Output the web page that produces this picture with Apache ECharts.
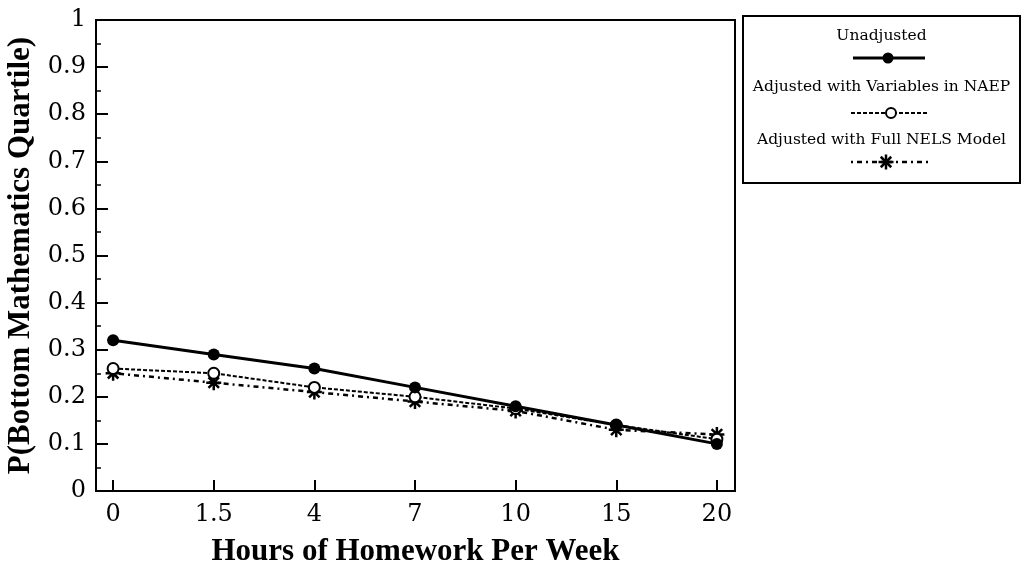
<!DOCTYPE html>
<html>
<head>
<meta charset="utf-8">
<script src="https://cdn.jsdelivr.net/npm/echarts@6/dist/echarts.min.js"></script>
<style>
  html, body { margin: 0; padding: 0; background: #fff; }
  #chart { width: 1021px; height: 563px; }
</style>
</head>
<body>
<div id="chart"></div>
<script>
// Hours of homework per week (category labels along the x axis)
const hourLabels = ['0', '1.5', '4', '7', '10', '15', '20'];

// Probability of being in the bottom mathematics quartile
const unadjusted = [0.32, 0.29, 0.26, 0.22, 0.18, 0.14, 0.10];
const adjustedNAEP = [0.26, 0.25, 0.22, 0.20, 0.175, 0.14, 0.11];
const adjustedNELS = [0.25, 0.23, 0.21, 0.19, 0.17, 0.13, 0.12];

const seriesNames = [
  'Unadjusted',
  'Adjusted with Variables in NAEP',
  'Adjusted with Full NELS Model'
];

const SERIF = '"DejaVu Serif", "Liberation Serif", serif';
const TITLE_FONT = '"Liberation Serif", "DejaVu Serif", serif';

// eight-armed asterisk marker
const ASTERISK = 'path://M0,-10 L0,10 M-10,0 L10,0 M-7,-7 L7,7 M-7,7 L7,-7';

const toPairs = arr => arr.map((v, i) => [i, v]);

const chart = echarts.init(document.getElementById('chart'), null, { renderer: 'canvas' });

// legend box drawn with text above each sample line
const lgX = 743, lgY = 16, lgW = 277, lgH = 167, lgC = lgX + lgW / 2;
const legendText = (txt, y) => ({
  type: 'text', x: lgC, y: y,
  style: { text: txt, fill: '#000', font: '15.5px ' + SERIF, align: 'center', verticalAlign: 'middle' }
});
const strokeLine = (x1, y1, x2, y2, w) => ({
  type: 'line', shape: { x1, y1, x2, y2 }, style: { stroke: '#000', lineWidth: w }
});
const asteriskGraphic = (cx, cy, r) => {
  const d = r * 0.7;
  return {
    type: 'group',
    children: [
      strokeLine(cx, cy - r, cx, cy + r, 2.5),
      strokeLine(cx - r, cy, cx + r, cy, 2.5),
      strokeLine(cx - d, cy - d, cx + d, cy + d, 2.5),
      strokeLine(cx - d, cy + d, cx + d, cy - d, 2.5)
    ]
  };
};

const option = {
  animation: false,
  backgroundColor: '#fff',
  grid: {
    left: 96, right: 286, top: 20, bottom: 72,
    show: true, borderColor: '#000', borderWidth: 2,
    containLabel: false, outerBoundsMode: 'none'
  },
  xAxis: {
    type: 'value',
    min: -0.17, max: 6.18,
    name: 'Hours of Homework Per Week',
    nameLocation: 'middle',
    nameGap: 45,
    nameTextStyle: { fontFamily: TITLE_FONT, fontWeight: 'bold', fontSize: 31, color: '#000' },
    axisLine: { show: true, onZero: false, lineStyle: { color: '#000', width: 2 } },
    axisTick: { show: true, inside: true, length: 11, lineStyle: { color: '#000', width: 2 },
      customValues: [0, 1, 2, 3, 4, 5, 6] },
    axisLabel: { show: true, margin: 12, fontFamily: SERIF, fontSize: 24, color: '#000',
      customValues: [0, 1, 2, 3, 4, 5, 6],
      formatter: v => hourLabels[Math.round(v)] },
    splitLine: { show: false }
  },
  yAxis: {
    type: 'value',
    min: 0, max: 1, interval: 0.1,
    name: 'P(Bottom Mathematics Quartile)',
    nameLocation: 'middle',
    nameGap: 53,
    nameTextStyle: { fontFamily: TITLE_FONT, fontWeight: 'bold', fontSize: 31, color: '#000' },
    axisLine: { show: true, onZero: false, lineStyle: { color: '#000', width: 2 } },
    axisTick: { show: true, inside: true, length: 12, lineStyle: { color: '#000', width: 2 } },
    minorTick: { show: true, splitNumber: 2, length: 5, lineStyle: { color: '#000', width: 1.5 } },
    axisLabel: { margin: 10, fontFamily: SERIF, fontSize: 24, color: '#000',
      formatter: v => (v === 0 ? '0' : v === 1 ? '1' : v.toFixed(1)) },
    splitLine: { show: false }
  },
  series: [
    {
      name: seriesNames[0],
      type: 'line',
      data: toPairs(unadjusted),
      symbol: 'circle',
      symbolSize: 12,
      itemStyle: { color: '#000' },
      lineStyle: { color: '#000', width: 3 },
      z: 4
    },
    {
      name: seriesNames[1],
      type: 'line',
      data: toPairs(adjustedNAEP),
      symbol: 'emptyCircle',
      symbolSize: 11,
      itemStyle: { color: '#000', borderColor: '#000', borderWidth: 2 },
      lineStyle: { color: '#000', width: 2, type: [4, 2] },
      z: 3
    },
    {
      name: seriesNames[2],
      type: 'line',
      data: toPairs(adjustedNELS),
      symbol: ASTERISK,
      symbolSize: 15,
      itemStyle: { color: '#000', borderColor: '#000', borderWidth: 2.5 },
      lineStyle: { color: '#000', width: 2.5, type: [2, 4, 5, 4] },
      z: 2
    }
  ],
  graphic: [
    {
      type: 'rect',
      shape: { x: lgX, y: lgY, width: lgW, height: lgH },
      style: { fill: '#fff', stroke: '#000', lineWidth: 2 }
    },
    legendText(seriesNames[0], 36),
    strokeLine(853, 58, 925, 58, 3),
    { type: 'circle', shape: { cx: 888, cy: 58, r: 5.5 }, style: { fill: '#000' } },
    legendText(seriesNames[1], 87),
    { type: 'line', shape: { x1: 851, y1: 113, x2: 928, y2: 113 }, style: { stroke: '#000', lineWidth: 2, lineDash: [4, 2] } },
    { type: 'circle', shape: { cx: 891, cy: 113, r: 5 }, style: { fill: '#fff', stroke: '#000', lineWidth: 2 } },
    legendText(seriesNames[2], 140),
    { type: 'line', shape: { x1: 851, y1: 162, x2: 930, y2: 162 }, style: { stroke: '#000', lineWidth: 2.5, lineDash: [2, 4, 5, 4] } },
    asteriskGraphic(886, 162, 7.5)
  ]
};

chart.setOption(option);
</script>
</body>
</html>
